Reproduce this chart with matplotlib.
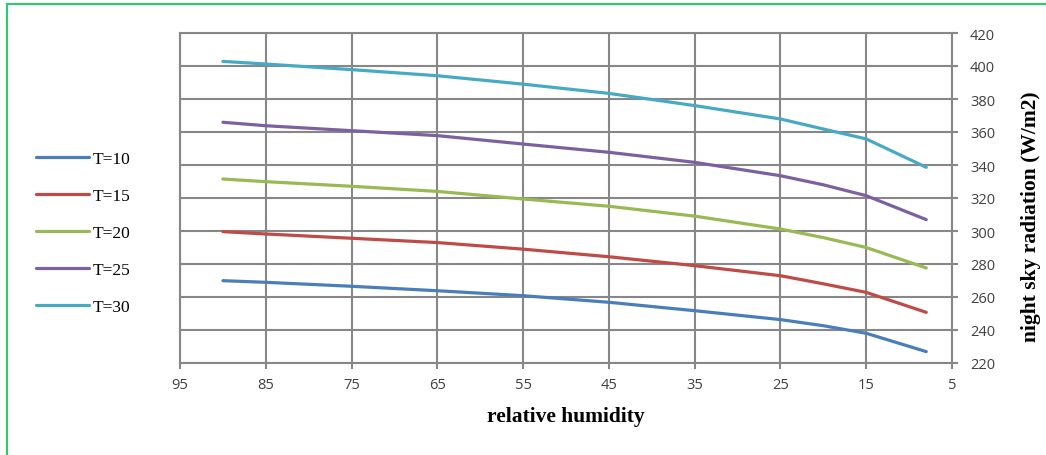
import matplotlib.pyplot as plt
from matplotlib.lines import Line2D

# relative humidity (%) where values were read
humidity = [90, 85, 75, 65, 55, 45, 35, 25, 20, 15, 8]

# night sky radiation (W/m2) per air temperature
t10 = [269.9, 268.9, 266.5, 263.8, 260.8, 256.8, 251.7, 246.3, 242.6, 238.0, 226.9]
t15 = [299.6, 298.2, 295.6, 293.0, 289.0, 284.4, 279.0, 272.9, 268.0, 262.8, 250.7]
t20 = [331.5, 329.9, 327.1, 324.0, 319.4, 315.0, 309.0, 301.2, 296.0, 290.0, 277.6]
t25 = [365.9, 363.8, 360.8, 357.8, 352.7, 347.7, 341.6, 333.5, 328.0, 321.4, 306.9]
t30 = [402.8, 401.2, 397.8, 394.1, 389.0, 383.4, 376.0, 367.9, 361.8, 355.8, 338.6]

series = [("T=10", t10, "#4a7ebb"),
          ("T=15", t15, "#be4b48"),
          ("T=20", t20, "#98b954"),
          ("T=25", t25, "#7d60a0"),
          ("T=30", t30, "#46aac5")]

x_ticks = list(range(95, 4, -10))
y_ticks = list(range(220, 421, 20))

fig = plt.figure(figsize=(10.46, 4.56), dpi=100)
ax = fig.add_axes([180 / 1046, 92 / 456, 772 / 1046, 330 / 456])

grid_col = "#878787"
for name, vals, col in series:
    ax.plot(humidity, vals, color=col, lw=2.3, label=name, solid_capstyle="round", zorder=3)

ax.set_xlim(95, 5)
ax.set_ylim(220, 420)
ax.set_xticks(x_ticks)
ax.set_yticks(y_ticks)
ax.grid(True, color=grid_col, lw=1.5)
ax.set_axisbelow(True)

ax.yaxis.tick_right()
ax.yaxis.set_label_position("right")
ax.tick_params(axis="both", color=grid_col, width=1.5, length=4, labelsize=10.5,
               labelcolor="#404040")
ax.tick_params(axis="x", pad=6)
ax.tick_params(axis="y", pad=9)
for lab in ax.get_xticklabels() + ax.get_yticklabels():
    lab.set_family("Open Sans")
for sp in ax.spines.values():
    sp.set_color(grid_col)
    sp.set_linewidth(1.5)

ax.set_xlabel("relative humidity", family="Liberation Serif", fontweight="bold",
              fontsize=15.5, labelpad=10)
ax.set_ylabel("night sky radiation (W/m2)", family="Liberation Serif", fontweight="bold",
              fontsize=15.5)
ax.yaxis.set_label_coords(1.09, 0.445)

fig.legend(loc="center left", bbox_to_anchor=(20 / 1046, 1 - 234 / 456), frameon=False,
           prop={"family": "Liberation Serif", "size": 12.5}, labelspacing=1.2,
           handlelength=3.1, handletextpad=0.2)

# green frame around the picture
fig.add_artist(Line2D([7 / 1046, 1.0], [1 - 5 / 456, 1 - 5 / 456], color="#2ecc71", lw=1.5,
                      transform=fig.transFigure))
fig.add_artist(Line2D([7 / 1046, 7 / 1046], [0, 1 - 5 / 456], color="#2ecc71", lw=1.5,
                      transform=fig.transFigure))

fig.savefig("out.png", dpi=100)
